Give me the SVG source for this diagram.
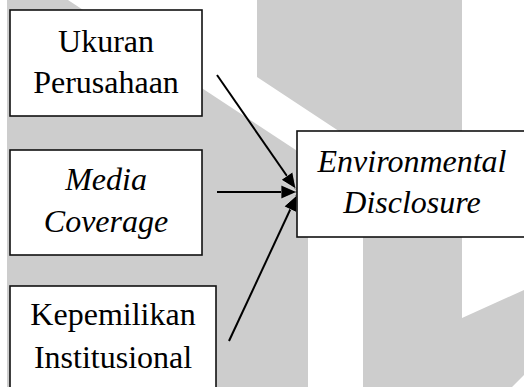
<svg xmlns="http://www.w3.org/2000/svg" width="524" height="387" viewBox="0 0 524 387">
<style>
.box{fill:#fff;stroke:#111;stroke-width:1.6}
.t{font-family:"Liberation Serif","Times New Roman",serif;font-size:32px;fill:#000;text-anchor:middle}
.i{font-style:italic}
.c{stroke:#000;stroke-width:2;fill:none;marker-end:url(#ah)}
.wm{fill:#cdcdcd}
</style>
<defs>
<marker id="ah" markerUnits="userSpaceOnUse" markerWidth="17" markerHeight="15" refX="16" refY="7" orient="auto">
<path d="M0,0 L16,7 L0,14 z" fill="#000" stroke="#fff" stroke-width="0.6"/>
</marker>
</defs>
<rect width="524" height="387" fill="#fff"/>
<g id="watermark">
<polygon class="wm" points="7,0 68,0 308,158 308,387 7,387"/>
<polygon class="wm" points="257,0 462,0 462,318 524,290 524,375 512,387 363,387 363,147 257,77"/>
</g>
<g id="connectors">
<line class="c" x1="217" y1="75" x2="296" y2="189"/>
<line class="c" x1="217" y1="192" x2="297" y2="192"/>
<line class="c" x1="229" y1="341" x2="297" y2="195"/>
</g>
<g id="ukuran">
<rect class="box" x="10" y="10" width="192" height="106"/>
<text class="t" x="106" y="52">Ukuran</text>
<text class="t" x="106" y="93">Perusahaan</text>
</g>
<g id="media">
<rect class="box" x="10" y="150" width="192" height="105"/>
<text class="t i" x="106" y="190">Media</text>
<text class="t i" x="106" y="232">Coverage</text>
</g>
<g id="kepemilikan">
<rect class="box" x="10" y="286" width="206" height="110"/>
<text class="t" x="113" y="325">Kepemilikan</text>
<text class="t" x="113" y="368">Institusional</text>
</g>
<g id="environmental">
<rect class="box" x="297" y="131" width="240" height="106"/>
<text class="t i" x="412" y="172">Environmental</text>
<text class="t i" x="412" y="213">Disclosure</text>
</g>
</svg>
